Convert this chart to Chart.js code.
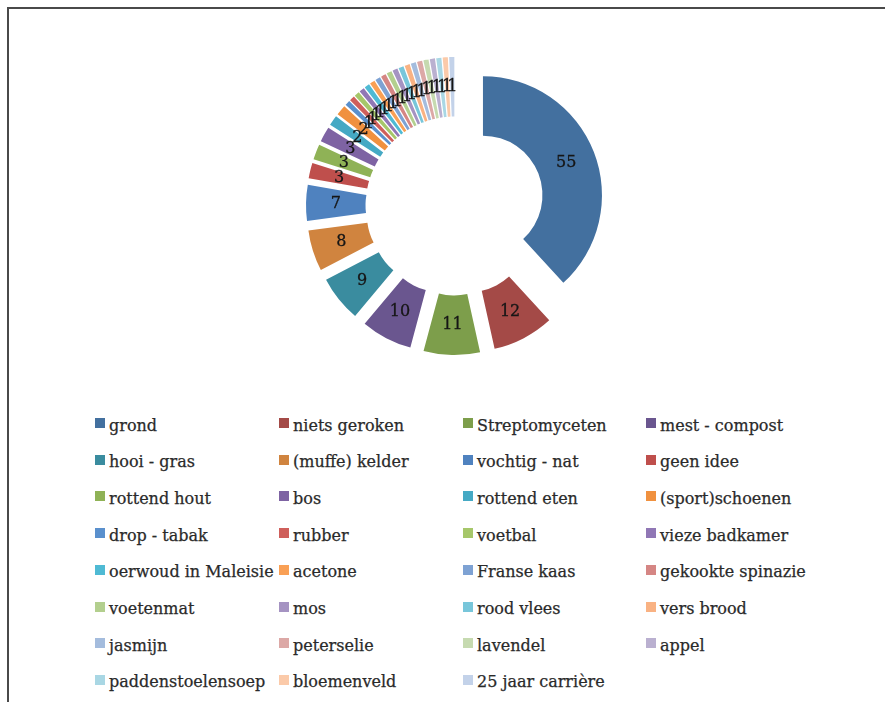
<!DOCTYPE html>
<html>
<head>
<meta charset="utf-8">
<script src="https://cdn.jsdelivr.net/npm/chart.js@4"></script>
<style>
  html, body { margin: 0; padding: 0; background: #fff; }
  body { width: 885px; height: 702px; overflow: hidden; position: relative; }
  .frame { position: absolute; left: 7px; top: 7px; width: 900px; height: 720px;
           border-top: 2px solid #4a4a4a; border-left: 2px solid #4a4a4a; }
  #chart { position: absolute; left: 0; top: 0; }
  .item { position: absolute; font-family: "DejaVu Serif", serif; font-size: 16px;
          line-height: 20px; color: #2a2a2a; white-space: nowrap;
          -webkit-text-stroke: 0.25px #2a2a2a; }
  .item .box { position: absolute; left: 0; top: 2.5px; width: 10px; height: 10px; }
  .item .txt { position: absolute; left: 14px; top: 0; }
</style>
</head>
<body>
<div class="frame"></div>
<canvas id="chart" width="885" height="400"></canvas>
<div id="legend"></div>
<script>
const labels = ['grond', 'niets geroken', 'Streptomyceten', 'mest - compost',
  'hooi - gras', '(muffe) kelder', 'vochtig - nat', 'geen idee',
  'rottend hout', 'bos', 'rottend eten', '(sport)schoenen',
  'drop - tabak', 'rubber', 'voetbal', 'vieze badkamer',
  'oerwoud in Maleisie', 'acetone', 'Franse kaas', 'gekookte spinazie',
  'voetenmat', 'mos', 'rood vlees', 'vers brood',
  'jasmijn', 'peterselie', 'lavendel', 'appel',
  'paddenstoelensoep', 'bloemenveld', '25 jaar carrière'];

const counts = [55, 12, 11, 10, 9, 8, 7, 3, 3, 3, 2, 2,
  1, 1, 1, 1, 1, 1, 1, 1, 1, 1, 1, 1, 1, 1, 1, 1, 1, 1, 1];

const colors = ['#43709f', '#a44a47', '#7d9e4b', '#6a568f',
  '#3a8c9f', '#d0843f', '#4f82bf', '#bf4f4c',
  '#8fb256', '#7e63a3', '#45a9c4', '#f0913f',
  '#5a90cd', '#cf5f5b', '#a6c76a', '#9077b5',
  '#4fbad4', '#f9a055', '#7ea2d3', '#d58684',
  '#b3cf8e', '#a593c2', '#78c6da', '#f9b283',
  '#a4bcdd', '#dca8a6', '#c6dab0', '#bab0d0',
  '#a9d7e4', '#fbcaa9', '#c3d2e9'];

const explodeDist = 30;

// pull every slice straight out along its own bisector
const explode = {
  id: 'explode',
  afterDatasetsUpdate(chart) {
    chart.getDatasetMeta(0).data.forEach(arc => {
      const mid = (arc.startAngle + arc.endAngle) / 2;
      arc.x += Math.cos(mid) * explodeDist;
      arc.y += Math.sin(mid) * explodeDist;
    });
  }
};

const sliceLabels = {
  id: 'sliceLabels',
  afterDatasetsDraw(chart) {
    const ctx = chart.ctx;
    const ds = chart.data.datasets[0];
    ctx.save();
    ctx.font = '16px "DejaVu Serif", serif';
    ctx.fillStyle = '#161616';
    ctx.strokeStyle = '#161616';
    ctx.lineWidth = 0.3;
    ctx.textAlign = 'center';
    ctx.textBaseline = 'middle';
    chart.getDatasetMeta(0).data.forEach((arc, i) => {
      const p = arc.getCenterPoint();
      ctx.fillText(String(ds.data[i]), p.x, p.y);
      ctx.strokeText(String(ds.data[i]), p.x, p.y);
    });
    ctx.restore();
  }
};

new Chart(document.getElementById('chart'), {
  type: 'doughnut',
  data: {
    labels: labels,
    datasets: [{
      data: counts,
      backgroundColor: colors,
      borderWidth: 0
    }]
  },
  options: {
    responsive: false,
    animation: false,
    events: [],
    radius: 119,
    cutout: '50%',
    layout: { padding: { left: 25, top: 12 } },
    plugins: {
      legend: { display: false },
      tooltip: { enabled: false }
    }
  },
  plugins: [explode, sliceLabels]
});

// legend: 4 columns, filled row by row
const colX = [95, 279, 463, 646];
const rowTop = 415.5, rowStep = 36.7;
const legend = document.getElementById('legend');
labels.forEach((name, i) => {
  const item = document.createElement('div');
  item.className = 'item';
  item.style.left = colX[i % 4] + 'px';
  item.style.top = (rowTop + Math.floor(i / 4) * rowStep) + 'px';
  item.innerHTML = '<span class="box" style="background:' + colors[i] + '"></span><span class="txt"></span>';
  item.querySelector('.txt').textContent = name;
  legend.appendChild(item);
});
</script>
</body>
</html>
